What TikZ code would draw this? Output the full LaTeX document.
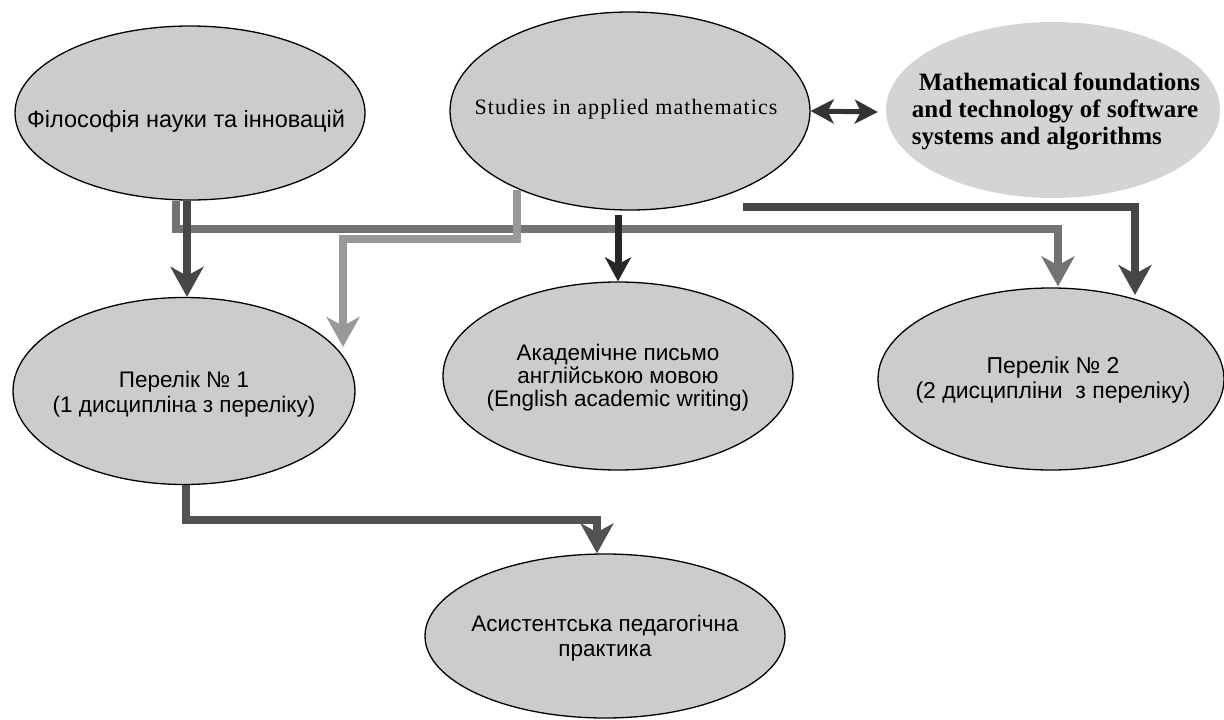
\documentclass[tikz,border=0pt]{standalone}
\usepackage{fontspec}
\setmainfont{Liberation Sans}
\newfontfamily\serifsp[LetterSpace=5]{Liberation Serif}
\newfontfamily\serifbf{Liberation Serif Bold}
\usetikzlibrary{shapes.geometric,arrows.meta}
\begin{document}
\begin{tikzpicture}[x=1pt,y=-1pt,
  oval/.style={ellipse, draw=black, line width=1.3pt, fill=black!20, inner sep=0pt},
  softoval/.style={ellipse, draw=none, fill=black!17, inner sep=0pt},
  lbl/.style={font=\fontsize{22.5}{25}\selectfont, align=center, inner sep=0pt, text=black},
  bighead/.style={-{Stealth[length=30pt,width=33pt,inset=9pt]}},
  conn/.style={line width=8pt, line join=miter},
  darkc/.style={conn, draw=black!72},
  midc/.style={conn, draw=black!55},
  lightc/.style={conn, draw=black!40}
]
\useasboundingbox (0,0) rectangle (1224,720);

% ellipses
\node[oval, minimum width=350pt, minimum height=174pt] (phil) at (190,113) {};
\node[oval, minimum width=360pt, minimum height=198pt] (stud) at (630,111) {};
\node[softoval, minimum width=334pt, minimum height=176pt] (math) at (1053,110) {};
\node[oval, minimum width=342pt, minimum height=187pt] (per1) at (184,391) {};
\node[oval, minimum width=350pt, minimum height=188pt] (akad) at (618,376) {};
\node[oval, minimum width=346pt, minimum height=182pt] (per2) at (1051,379) {};
\node[oval, minimum width=360pt, minimum height=164pt] (asys) at (605,636) {};

% texts
\node[lbl, font=\fontsize{23.5}{26}\selectfont] (phil-t) at ([shift={(-4,8)}]phil.center) {Філософія науки та інновацій};
\node[lbl, font=\serifsp\fontsize{22}{24}\selectfont] (stud-t) at ([shift={(-4,-2)}]stud.center) {Studies in applied mathematics};
\node[lbl, align=left, font=\serifbf\fontsize{25}{27}\selectfont] (math-t) at ([shift={(3,1)}]math.center) {\hspace*{7pt}Mathematical foundations\\and technology of software\\systems and algorithms};
\node[lbl] (per1-t) at ([shift={(0,3)}]per1.center) {Перелік № 1\\(1 дисципліна з переліку)};
\node[lbl, font=\fontsize{22.5}{23}\selectfont] (akad-t) at ([shift={(0,2)}]akad.center) {Академічне письмо\\англійською мовою\\(English academic writing)};
\node[lbl, font=\fontsize{23}{25}\selectfont] (per2-t) at ([shift={(2,1)}]per2.center) {Перелік № 2\\(2 дисципліни\ \ з переліку)};
\node[lbl] (asys-t) at ([shift={(0,2)}]asys.center) {Асистентська педагогічна\\практика};

% bus coordinates
\coordinate (bus1) at (600,229);
\coordinate (bus2) at (430,239);
\coordinate (s2) at (743,207);
\coordinate (bus4) at (400,520);

% double arrow
\draw[line width=5pt, draw=black!80, {Stealth[length=23pt,width=24pt,inset=6pt]}-{Stealth[length=23pt,width=24pt,inset=6pt]}]
  (stud.east) -- ([shift={(-8,2)}]math.west);

% philosophy -> Perelik 2 (gray bus)
\draw[midc, bighead] ([shift={(-14,0)}]phil.south) |- (bus1) -| ([shift={(7,-1)}]per2.north);
% studies -> Perelik 1 (light gray)
\draw[lightc, bighead] ([shift={(-113,79)}]stud.center) |- (bus2) -| ([shift={(159,-44)}]per1.center);
% philosophy -> Perelik 1 (dark)
\draw[darkc, bighead] ([shift={(-3,0)}]phil.south) -- ([shift={(3,0)}]per1.north);
% studies -> academic writing
\draw[line width=7pt, draw=black!85, -{Stealth[length=24pt,width=26pt,inset=7pt]}, shorten <=4pt]
  (stud.south -| akad.north) -- (akad.north);
% -> Perelik 2 (dark)
\draw[darkc, bighead] (s2) -| ([shift={(84,-84)}]per2.center);
% Perelik 1 -> assistant practice
\draw[darkc, draw=black!68, bighead] ([shift={(2,0)}]per1.south) |- (bus4) -| ([shift={(-8,0)}]asys.north);
\end{tikzpicture}
\end{document}
